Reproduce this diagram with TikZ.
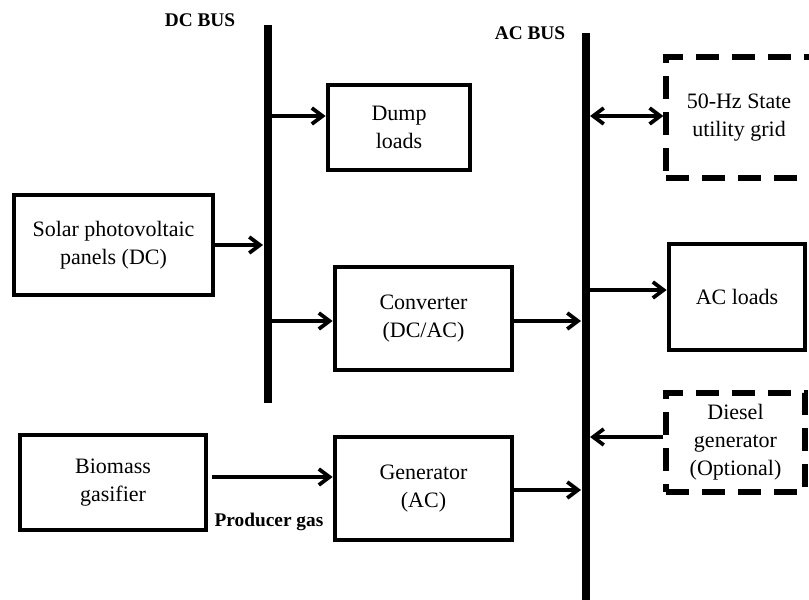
\documentclass[tikz,border=0pt]{standalone}
\usepackage{fontspec}
\setmainfont{Liberation Serif}
\usetikzlibrary{arrows.meta,calc}
\begin{document}
\begin{tikzpicture}[x=0.75pt,y=-0.75pt,
  box/.style={draw,line width=3.6pt,align=center,inner sep=0pt,
    font=\fontsize{16.5}{21}\selectfont},
  dbox/.style={box,line width=4pt,dash pattern=on 17pt off 10pt},
  tip/.style={},
  arr/.style={line width=2.8pt,-{Straight Barb[length=8pt,width=12pt,line width=2.8pt]}},
  darr/.style={line width=2.8pt,{Straight Barb[length=8pt,width=12pt,line width=2.8pt]}-{Straight Barb[length=8pt,width=12pt,line width=2.8pt]}},
  bus/.style={line width=6.5pt},
  lbl/.style={font=\bfseries\fontsize{14.5}{17}\selectfont}]
\useasboundingbox (0,0) rectangle (809,599);
\clip (0,0) rectangle (809,599);

% buses
\coordinate (dcT) at (268,25);
\coordinate (dcB) at (268,403);
\coordinate (acT) at (586,33);
\coordinate (acB) at (586,605);
\coordinate (dcL) at (263,0);
\coordinate (dcR) at (272,0);
\coordinate (acL) at (581,0);
\coordinate (acR) at (590,0);
\draw[bus] (dcT) -- (dcB);
\draw[bus] (acT) -- (acB);
\node[lbl] (dclbl) at (200,20) {DC BUS};
\node[lbl] (aclbl) at (530,33) {AC BUS};

% boxes
\node[box,minimum width=149.25pt,minimum height=75pt] (solar) at (113.5,245) {Solar photovoltaic\\panels (DC)};
\node[box,minimum width=106.5pt,minimum height=63.75pt] (dump) at (399,127.5) {Dump\\loads};
\node[box,minimum width=132.75pt,minimum height=77.25pt] (conv) at (423.5,318.5) {Converter\\(DC/AC)};
\node[box,minimum width=139.5pt,minimum height=71.25pt] (bio) at (113,482.5) {Biomass\\gasifier};
\node[box,minimum width=132.75pt,minimum height=77.25pt] (gen) at (423.5,488.5) {Generator\\(AC)};
\node[dbox,minimum width=109.5pt,minimum height=90.75pt] (grid) at (739,117.5) {50-Hz State\\utility grid};
\node[box,minimum width=102pt,minimum height=79.5pt] (acl) at (737,297) {AC loads};
\node[dbox,minimum width=104.25pt,minimum height=74.25pt] (dies) at (735.5,442.5) {Diesel\\generator\\(Optional)};
\node[lbl] (pgas) at (269,522) {Producer gas};

% arrow levels
\path ($(dump.west)+(0,-11.5)$) coordinate (dumpin);
\path ($(conv.west)+(0,2.5)$) coordinate (convin);
\path ($(conv.east)+(0,2.5)$) coordinate (convout);
\path ($(bio.east)+(0,-5.5)$) coordinate (bioout);
\path ($(gen.east)+(0,1.5)$) coordinate (genout);
\path ($(grid.west)+(0,-1.5)$) coordinate (gridin);
\path ($(acl.west)+(0,-7)$) coordinate (aclin);
\path ($(dies.west)+(0,-5.5)$) coordinate (diesout);

% connectors
\draw[arr] (solar.east) -- (solar.east -| dcL);
\draw[arr] (dumpin -| dcR) -- (dumpin);
\draw[arr] (convin -| dcR) -- (convin);
\draw[arr] (convout) -- (convout -| acL);
\draw[arr] ([xshift=3pt]bioout) -- (bioout -| gen.west);
\draw[arr] (genout) -- (genout -| acL);
\draw[darr] (gridin -| acR) -- (gridin);
\draw[arr] (aclin -| acR) -- (aclin);
\draw[arr] (diesout) -- (diesout -| acR);
\end{tikzpicture}
\end{document}
